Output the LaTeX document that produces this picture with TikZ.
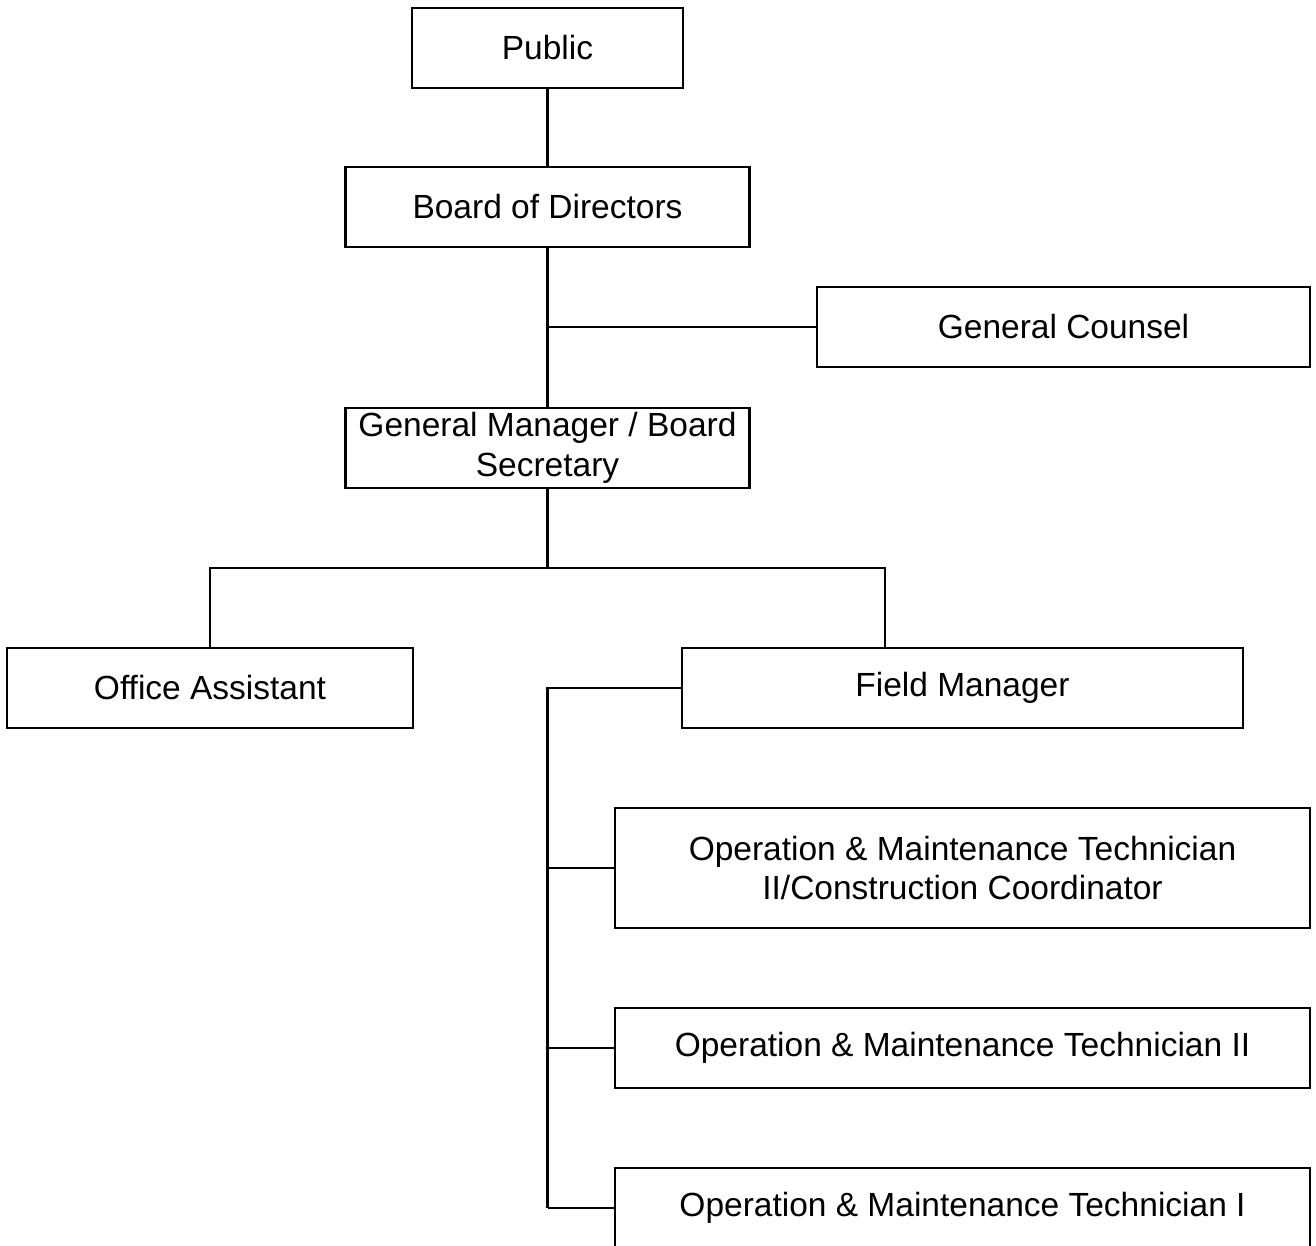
\documentclass[tikz,border=0pt]{standalone}
\usepackage{fontspec}
\setmainfont{Liberation Sans}
\usetikzlibrary{positioning}

\begin{document}
\begin{tikzpicture}[x=1pt, y=-1pt, line width=2.4pt, node distance=76.6pt,
    post/.style={draw, rectangle, minimum height=80pt, inner sep=0pt,
                 align=center, font=\fontsize{33.5}{39.5}\selectfont},
    link/.style={draw, line width=2.4pt}]
    \useasboundingbox (0,0) rectangle (1316,1246);

    \node[post, minimum width=271pt] (Public) at (547.5,48) {Public};
    \node[post, minimum width=404pt] (Board) [below=of Public] {Board of Directors};
    \node[post, minimum width=404pt] (Manager) [below=158.6pt of Board] {General Manager / Board\\Secretary};
    \node[post, minimum width=493pt] (Counsel) at (1063.5,327) {General Counsel};
    \node[post, minimum width=406pt] (Assistant) at (210,688) {Office Assistant};
    \node[post, minimum width=561pt] (FieldMgr) at (962.5,688) {Field Manager};
    \node[post, minimum width=695pt, minimum height=120pt] (TechCoord) at (962.5,868)
        {Operation \& Maintenance Technician\\II/Construction Coordinator};
    \node[post, minimum width=695pt] (TechTwo) at (962.5,1048) {Operation \& Maintenance Technician II};
    \node[post, minimum width=695pt] (TechOne) at (962.5,1208) {Operation \& Maintenance Technician I};

    \coordinate (Split) at (547.5,568);
    \coordinate (Bus) at (547.5,1208);

    \path[link] (Public) -- (Board);
    \path[link] (Board) -- (Manager);
    \path[link] (Counsel.west) -- (Counsel.west -| Board.south);
    \path[link] (Manager) -- (Split);
    \path[link] (Assistant.north) |- (Split) -| ([xshift=-77.5pt]FieldMgr.north);
    \path[link] (FieldMgr.west) -| (Bus);
    \foreach \tech in {TechCoord, TechTwo, TechOne}
        \path[link] (\tech.west) -- (\tech.west -| Bus);
\end{tikzpicture}
\end{document}
